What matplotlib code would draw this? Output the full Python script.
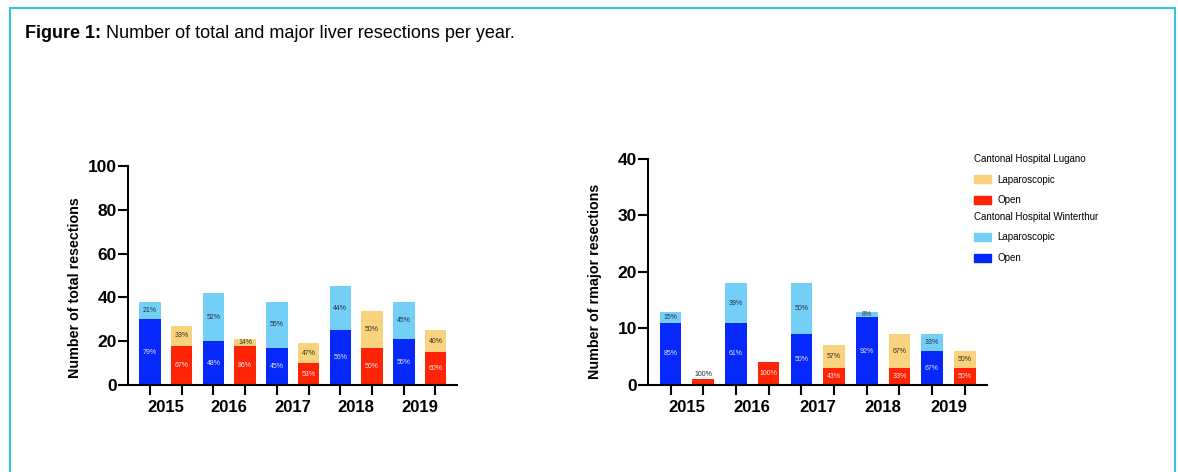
import numpy as np
import matplotlib.pyplot as plt
from matplotlib.patches import Patch, Rectangle

plt.rcParams['font.family'] = ['Liberation Sans', 'DejaVu Sans']

years = ['2015', '2016', '2017', '2018', '2019']

# total resections
tot_w_open = [30, 20, 17, 25, 21]
tot_w_lap = [8, 22, 21, 20, 17]
tot_l_open = [18, 18, 10, 17, 15]
tot_l_lap = [9, 3, 9, 17, 10]

# major resections
maj_w_open = [11, 11, 9, 12, 6]
maj_w_lap = [2, 7, 9, 1, 3]
maj_l_open = [1, 4, 3, 3, 3]
maj_l_lap = [0, 0, 4, 6, 3]

c_blue = '#0628FA'
c_lblue = '#74CFF6'
c_red = '#FF2406'
c_yellow = '#F8D27C'


def draw(ax, w_open, w_lap, l_open, l_lap, ymax, yticks, ylabel, width, small, lx, ly):
    n = len(w_open)
    xw = np.arange(n) * 2
    xl = xw + 1
    ax.bar(xw, w_open, width, color=c_blue)
    ax.bar(xw, w_lap, width, bottom=w_open, color=c_lblue)
    ax.bar(xl, l_open, width, color=c_red)
    ax.bar(xl, l_lap, width, bottom=l_open, color=c_yellow)

    for xs, op, lp, lcol, dcol in [(xw, w_open, w_lap, '#e4e6ff', '#223344'),
                                   (xl, l_open, l_lap, '#ffe8e4', '#333322')]:
        for x, o, l in zip(xs, op, lp):
            t = o + l
            if o > 0:
                s = '%d%%' % round(100 * o / t)
                if t <= small:
                    ax.text(x, o + ymax * 0.008, s, ha='center', va='bottom',
                            fontsize=5, color='#222222')
                else:
                    ax.text(x, o / 2, s, ha='center', va='center',
                            fontsize=5, color=lcol)
            if l > 0:
                ax.text(x, o + l / 2, '%d%%' % round(100 * l / t),
                        ha='center', va='center', fontsize=5, color=dcol)

    ax.set_xlim(-0.69, 2 * n - 0.32)
    ax.set_ylim(0, ymax)
    ax.set_yticks(yticks)
    ax.set_yticklabels([str(v) for v in yticks], fontsize=12.5, fontweight='bold')
    ax.set_xticks(np.concatenate([xw, xl]))
    ax.set_xticklabels([])
    ax.set_xticks(xw + 0.5, minor=True)
    ax.set_xticklabels(years, minor=True, fontsize=12, fontweight='bold')
    ax.tick_params(axis='x', which='minor', length=0, pad=11)
    ax.tick_params(axis='x', which='major', length=7, width=1.5)
    ax.tick_params(axis='y', length=7, width=1.5, pad=1)
    ax.set_ylabel(ylabel, fontsize=10.3, fontweight='bold')
    ax.yaxis.set_label_coords(lx, ly)
    for sp in ['top', 'right']:
        ax.spines[sp].set_visible(False)
    for sp in ['left', 'bottom']:
        ax.spines[sp].set_linewidth(1.5)


fig = plt.figure(figsize=(11.78, 4.72), dpi=100)
ax1 = fig.add_axes([0.1087, 0.1843, 0.2793, 0.464])
ax2 = fig.add_axes([0.5501, 0.1843, 0.2878, 0.479])

draw(ax1, tot_w_open, tot_w_lap, tot_l_open, tot_l_lap, 100, [0, 20, 40, 60, 80, 100],
     'Number of total resections', 0.68, 0, -0.14, 0.445)
draw(ax2, maj_w_open, maj_w_lap, maj_l_open, maj_l_lap, 40, [0, 10, 20, 30, 40],
     'Number of rmajor resections', 0.66, 1, -0.137, 0.46)

leg_kw = dict(frameon=False, prop={'size': 7}, title_fontproperties={'size': 7},
              alignment='left', handlelength=1.7, handleheight=0.9, handletextpad=0.7,
              labelspacing=1.1, borderpad=0, loc='upper left')
fig.legend(handles=[Patch(color=c_yellow), Patch(color=c_red)],
           labels=['Laparoscopic', 'Open'], title='Cantonal Hospital Lugano',
           bbox_to_anchor=(0.823, 0.684), **leg_kw)
fig.legend(handles=[Patch(color=c_lblue), Patch(color=c_blue)],
           labels=['Laparoscopic', 'Open'], title='Cantonal Hospital Winterthur',
           bbox_to_anchor=(0.823, 0.562), **leg_kw)

# title
t1 = fig.text(25 / 1178, 1 - 33 / 472, 'Figure 1:', fontsize=13,
              fontweight='bold', va='center')
fig.add_artist(plt.Annotation(' Number of total and major liver resections per year.',
                              xy=(1, 0.5), xycoords=t1, va='center', ha='left',
                              fontsize=13))

# border
fig.patches.append(Rectangle((10 / 1178, -0.1), 1165 / 1178, 1.1 - 8 / 472,
                             transform=fig.transFigure, fill=False,
                             edgecolor='#34C6DD', linewidth=1.5, figure=fig))

fig.savefig('out.png', dpi=100)
